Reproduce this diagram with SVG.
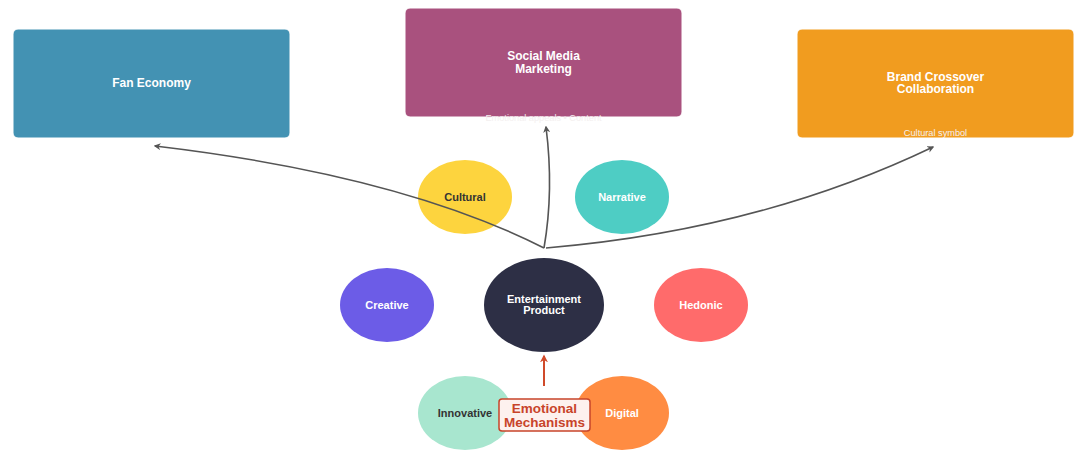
<svg xmlns="http://www.w3.org/2000/svg" width="1083" height="457" viewBox="0 0 1083 457">
<defs>
<style>
.t{font-family:"Liberation Sans",Arial,sans-serif;font-weight:bold;text-anchor:middle}
.box{stroke:#ffffff;stroke-width:1}
.sub{font-family:"Liberation Sans",Arial,sans-serif;font-size:9.2px;fill:#f4f0f0;text-anchor:middle}
.conn{fill:none;stroke:#555555;stroke-width:1.6}
</style>
<marker id="ah" viewBox="0 0 10 10" refX="8" refY="5" markerWidth="7" markerHeight="7" markerUnits="userSpaceOnUse" orient="auto-start-reverse">
<path d="M0,0 L10,5 L0,10 L3,5 z" fill="#555555"/>
</marker>
<marker id="ahr" viewBox="0 0 10 10" refX="8" refY="5" markerWidth="8" markerHeight="8" markerUnits="userSpaceOnUse" orient="auto">
<path d="M0,0 L10,5 L0,10 L3,5 z" fill="#d04a2a"/>
</marker>
</defs>
<rect width="1083" height="457" fill="#ffffff"/>

<g id="fan-economy">
<rect class="box" x="13" y="29" width="277" height="109" rx="5" fill="#4392b3"/>
<text class="t" x="151.5" y="87" font-size="12" fill="#ffffff">Fan Economy</text>
</g>
<g id="social-media">
<rect class="box" x="405" y="8" width="277" height="109" rx="5" fill="#a9517e"/>
<text class="t" x="543.5" y="60" font-size="12" fill="#ffffff">Social Media</text>
<text class="t" x="543.5" y="73" font-size="12" fill="#ffffff">Marketing</text>
<text class="sub" x="543.5" y="120.5">Emotional appeals • Content</text>
</g>
<g id="brand-crossover">
<rect class="box" x="797" y="29" width="277" height="109" rx="5" fill="#f19c1f"/>
<text class="t" x="935.5" y="81" font-size="12" fill="#ffffff">Brand Crossover</text>
<text class="t" x="935.5" y="93" font-size="12" fill="#ffffff">Collaboration</text>
<text class="sub" x="935.5" y="136">Cultural symbol</text>
</g>

<g id="cultural">
<ellipse cx="465" cy="197" rx="47" ry="37" fill="#fdd43e"/>
<text class="t" x="465" y="201" font-size="11" fill="#333333">Cultural</text>
</g>
<g id="narrative">
<ellipse cx="622" cy="197" rx="47" ry="37" fill="#4ecdc4"/>
<text class="t" x="622" y="201" font-size="11" fill="#ffffff">Narrative</text>
</g>
<g id="creative">
<ellipse cx="387" cy="305" rx="47" ry="37" fill="#6c5ce7"/>
<text class="t" x="387" y="309" font-size="11" fill="#ffffff">Creative</text>
</g>
<g id="hedonic">
<ellipse cx="701" cy="305" rx="47" ry="37" fill="#ff6b6b"/>
<text class="t" x="701" y="309" font-size="11" fill="#ffffff">Hedonic</text>
</g>
<g id="innovative">
<ellipse cx="465" cy="413" rx="47" ry="37" fill="#a8e6cf"/>
<text class="t" x="465" y="417" font-size="11" fill="#333333">Innovative</text>
</g>
<g id="digital">
<ellipse cx="622" cy="413" rx="47" ry="37" fill="#ff8c42"/>
<text class="t" x="622" y="417" font-size="11" fill="#ffffff">Digital</text>
</g>

<g id="connectors">
<path class="conn" d="M544,248 Q400,175 155,146" marker-end="url(#ah)"/>
<path class="conn" d="M544,248 Q554,190 546,127" marker-end="url(#ah)"/>
<path class="conn" d="M546,248 Q760,230 933,147" marker-end="url(#ah)"/>
<path d="M544,386 L544,356" fill="none" stroke="#d04a2a" stroke-width="2" marker-end="url(#ahr)"/>
</g>

<g id="entertainment-product">
<ellipse cx="544" cy="305" rx="60" ry="47" fill="#2d2f45"/>
<text class="t" x="544" y="303" font-size="11" fill="#ffffff">Entertainment</text>
<text class="t" x="544" y="313.5" font-size="11" fill="#ffffff">Product</text>
</g>

<g id="emotional-mechanisms">
<rect x="499" y="399" width="91" height="32" rx="3" fill="#fdf1ee" stroke="#c8442a" stroke-width="1.5"/>
<text class="t" x="544.5" y="413" font-size="13.5" fill="#c8442a">Emotional</text>
<text class="t" x="544.5" y="426.5" font-size="13.5" fill="#c8442a">Mechanisms</text>
</g>
</svg>
